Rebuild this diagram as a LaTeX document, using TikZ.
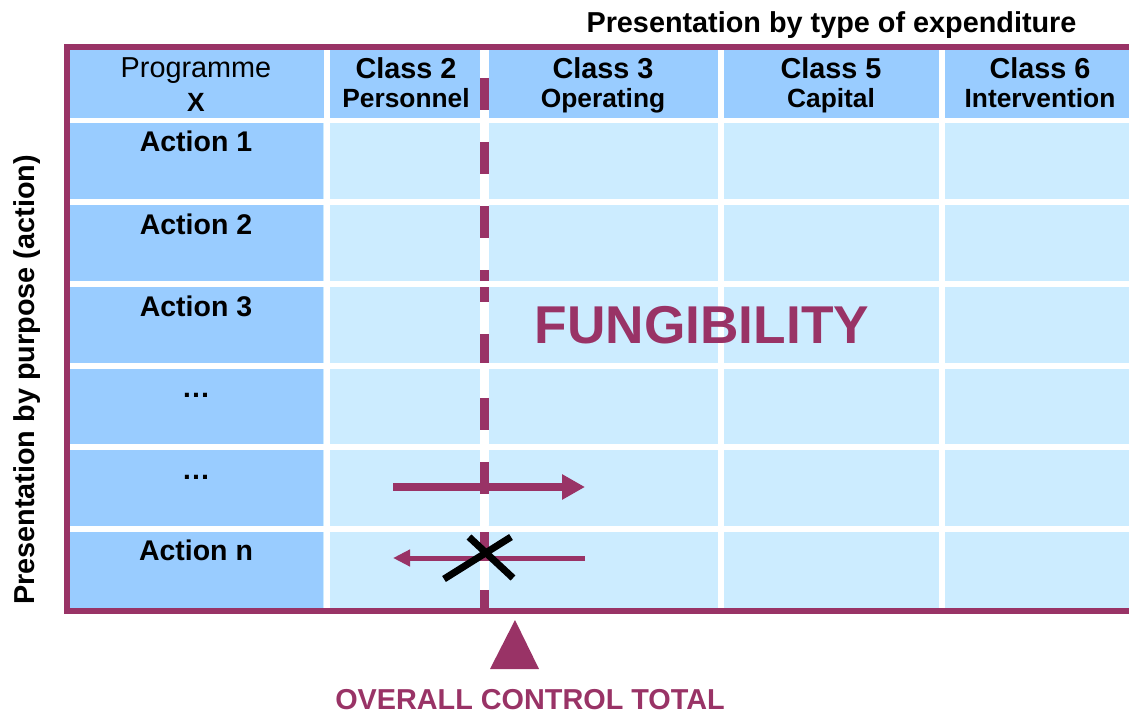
\documentclass[tikz,border=0pt]{standalone}
\usepackage{fontspec}
\setmainfont{Liberation Sans}
\usetikzlibrary{arrows.meta}
\definecolor{c993366}{RGB}{153,51,102}
\definecolor{c99ccff}{RGB}{153,204,255}
\definecolor{cccecff}{RGB}{204,236,255}
\tikzset{gap/.style={draw=white,line width=0.12cm},
frame/.style={draw=c993366,line width=0.12cm,line join=miter},
headtxt/.style={font=\fontsize{16.4}{18}\selectfont\bfseries},
subtxt/.style={font=\fontsize{15}{17}\selectfont\bfseries}}

\begin{document}
\begin{tikzpicture}[x=0.02cm,y=-0.02cm]
\useasboundingbox (0,0) rectangle (1129,713);
\fill[cccecff] (70,50) rectangle (1129,608);
\fill[c99ccff] (70,50) rectangle (1129,118);
\fill[c99ccff] (70,50) rectangle (323,608);

\draw[gap] (326.5,50) -- (326.5,608);
\draw[gap,line width=0.18cm] (484.5,50) -- (484.5,608);
\draw[gap] (721,50) -- (721,608);
\draw[gap] (942,50) -- (942,608);
\draw[c993366,line width=0.18cm,dash pattern=on 0.64cm off 0.64cm] (484.5,78) -- (484.5,608);
\draw[gap] (70,120.5) -- (1129,120.5);
\draw[gap] (70,202.2) -- (1129,202.2);
\draw[gap] (70,283.9) -- (1129,283.9);
\draw[gap] (70,365.6) -- (1129,365.6);
\draw[gap] (70,447.3) -- (1129,447.3);
\draw[gap] (70,529) -- (1129,529);
\draw[frame] (1129,47.5) -- (67,47.5) -- (67,611) -- (1129,611);

\begin{scope}[every node/.style={inner sep=0pt,anchor=base,headtxt}]
\node (title) at (831.5,33) {Presentation by type of expenditure};
\node[rotate=90] (side) at (34,380) {Presentation by purpose (action)};
\node[font=\fontsize{16.4}{18}\selectfont] (prog) at (196,78) {Programme};
\node[subtxt] (progx) at (196,112) {X};
\node (c2) at (406,78.4) {Class 2};
\node[subtxt] (c2b) at (406,108) {Personnel};
\node (c3) at (603,78.4) {Class 3};
\node[subtxt] (c3b) at (603,108) {Operating};
\node (c5) at (831,78.4) {Class 5};
\node[subtxt] (c5b) at (831,108) {Capital};
\node (c6) at (1040,78.4) {Class 6};
\node[subtxt] (c6b) at (1040,108) {Intervention};
\node[font=\fontsize{16.2}{18}\selectfont\bfseries] (a1) at (196,152) {Action 1};
\node[font=\fontsize{16.2}{18}\selectfont\bfseries] (a2) at (196,234) {Action 2};
\node[font=\fontsize{16.2}{18}\selectfont\bfseries] (a3) at (196,316) {Action 3};
\node[font=\fontsize{16.2}{18}\selectfont\bfseries] (a4) at (196,397) {…};
\node[font=\fontsize{16.2}{18}\selectfont\bfseries] (a5) at (196,479) {…};
\node[font=\fontsize{16.2}{18}\selectfont\bfseries] (an) at (196,560) {Action n};
\node[font=\fontsize{30.3}{32}\selectfont\bfseries,text=c993366] (fung) at (702,343) {FUNGIBILITY};
\node[text=c993366] (total) at (530,709) {OVERALL CONTROL TOTAL};
\end{scope}

\coordinate (r1) at (393,487);
\coordinate (r2) at (585,487);
\coordinate (l1) at (585,558);
\coordinate (l2) at (393,558);
\draw[c993366,line width=0.16cm,-{Triangle[length=0.46cm,width=0.48cm]}] (r1) -- (r2);
\draw[c993366,line width=0.1cm,-{Triangle[length=0.34cm,width=0.32cm]}] (l1) -- (l2);

\coordinate (x1) at (444,579);
\coordinate (x2) at (511,537);
\coordinate (x3) at (469,537);
\coordinate (x4) at (513,578);
\draw[black,line width=0.14cm] (x1) -- (x2);
\draw[black,line width=0.14cm] (x3) -- (x4);

\fill[c993366] (515,620) -- (539,669) -- (490,669) -- cycle;
\end{tikzpicture}
\end{document}
